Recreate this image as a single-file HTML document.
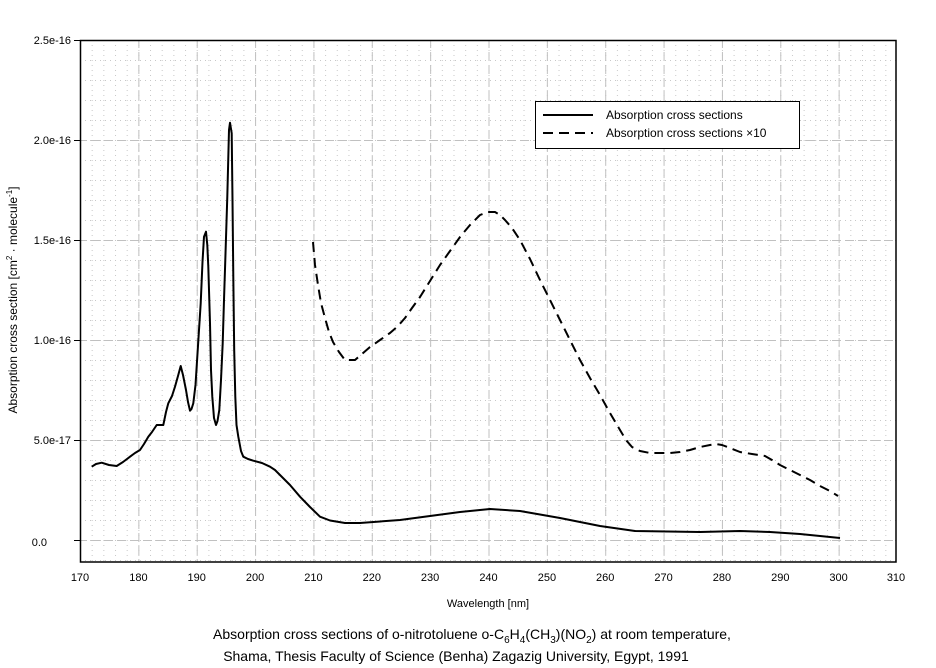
<!DOCTYPE html>
<html><head><meta charset="utf-8"><style>
body{margin:0;background:#fff;}
svg{display:block;font-family:"Liberation Sans",sans-serif;}
</style></head><body>
<svg width="936" height="668" viewBox="0 0 936 668" xmlns="http://www.w3.org/2000/svg">
<defs>
<pattern id="minx" x="80" y="0" width="11.6714" height="668" patternUnits="userSpaceOnUse">
<line x1="0.5" y1="0" x2="0.5" y2="668" stroke="#c8c8c8" stroke-width="1" stroke-dasharray="1,4"/>
</pattern>
<pattern id="miny" x="0" y="40" width="936" height="20" patternUnits="userSpaceOnUse">
<line x1="0" y1="0.5" x2="936" y2="0.5" stroke="#c8c8c8" stroke-width="1" stroke-dasharray="1,4"/>
</pattern>
<pattern id="majx" x="80" y="0" width="58.357" height="668" patternUnits="userSpaceOnUse">
<line x1="0.5" y1="0" x2="0.5" y2="668" stroke="#c0c0c0" stroke-width="1" stroke-dasharray="9,4"/>
</pattern>
<pattern id="majy" x="0" y="40" width="936" height="100" patternUnits="userSpaceOnUse">
<line x1="0" y1="0.5" x2="936" y2="0.5" stroke="#c0c0c0" stroke-width="1" stroke-dasharray="9,4"/>
</pattern>
</defs>
<rect x="80" y="40" width="816" height="522" fill="url(#minx)"/>
<rect x="80" y="40" width="816" height="522" fill="url(#miny)"/>
<rect x="80" y="40" width="816" height="522" fill="url(#majx)"/>
<rect x="80" y="40" width="816" height="522" fill="url(#majy)"/>
<rect x="80.5" y="40.5" width="815.5" height="521.5" fill="none" stroke="#000" stroke-width="1.5"/>
<g stroke="#000" stroke-width="1">
<line x1="74" y1="40.5" x2="80" y2="40.5"/><line x1="74" y1="140.5" x2="80" y2="140.5"/>
<line x1="74" y1="240.5" x2="80" y2="240.5"/><line x1="74" y1="340.5" x2="80" y2="340.5"/>
<line x1="74" y1="440.5" x2="80" y2="440.5"/><line x1="74" y1="540.5" x2="80" y2="540.5"/>
</g>
<g font-size="11" text-anchor="end" fill="#000">
<text x="71" y="44">2.5e-16</text><text x="71" y="144">2.0e-16</text>
<text x="71" y="244">1.5e-16</text><text x="71" y="344">1.0e-16</text>
<text x="71" y="444">5.0e-17</text><text x="47" y="546">0.0</text>
</g>
<g font-size="11" text-anchor="middle" fill="#000">
<text x="80" y="581">170</text><text x="138.4" y="581">180</text><text x="196.7" y="581">190</text>
<text x="255.1" y="581">200</text><text x="313.4" y="581">210</text><text x="371.8" y="581">220</text>
<text x="430.1" y="581">230</text><text x="488.5" y="581">240</text><text x="546.9" y="581">250</text>
<text x="605.2" y="581">260</text><text x="663.6" y="581">270</text><text x="721.9" y="581">280</text>
<text x="780.3" y="581">290</text><text x="838.6" y="581">300</text><text x="896" y="581">310</text>
<text x="488" y="607">Wavelength [nm]</text>
<text x="472" y="639" font-size="14">Absorption cross sections of o-nitrotoluene o-C<tspan font-size="10" dy="4">6</tspan><tspan dy="-4">H</tspan><tspan font-size="10" dy="4">4</tspan><tspan dy="-4">(CH</tspan><tspan font-size="10" dy="4">3</tspan><tspan dy="-4">)(NO</tspan><tspan font-size="10" dy="4">2</tspan><tspan dy="-4">) at room temperature,</tspan></text>
<text x="456" y="661" font-size="14">Shama, Thesis Faculty of Science (Benha) Zagazig University, Egypt, 1991</text>
</g>
<text transform="translate(17,300) rotate(-90)" font-size="12" text-anchor="middle">Absorption cross section [cm<tspan font-size="8" dy="-5">2</tspan><tspan dy="5"> · molecule</tspan><tspan font-size="8" dy="-5">-1</tspan><tspan dy="5">]</tspan></text>
<polyline fill="none" stroke="#000" stroke-width="2" stroke-linejoin="round" points="91.7,466.7 96,464 101.7,462.7 109,465 116.7,466 123,462 130,456.7 135,453 140,450 144,444 148.3,436.7 152,432 156.7,425 163.3,425 166,412 168.3,403.3 172,396 175,386.7 178,376 180.7,366 183,375 186,390 188,402 190,410.7 191.5,409 193.3,403.3 195.5,385 197.3,356.7 199,330 200.7,303.3 202.5,262 204,236.7 206,231.7 207.3,245 208.3,266.7 210,323.3 211,370 212.3,396.7 214,418 216,425 217.5,421 219.3,410 221,380 222.7,343.3 224,300 225.3,260 227.3,196.7 229,130 230,122.7 231.7,133.3 232.5,200 233.3,276.7 234.2,350 235.3,396.7 236.5,425 238.3,436.7 241,451 243.3,456.7 248,459 253.3,460.7 262,463 270,466.7 275,470 280,475 290,485 300,496.7 310,507 320,516.7 330,520.5 345,523 360,523 400,520 430,516 460,512 490,509 520,511 560,518 600,526 635,531 700,532 740,531 770,532 800,534 840,538"/>
<polyline fill="none" stroke="#000" stroke-width="2" stroke-dasharray="10,6" stroke-linejoin="round" points="313,242 315,265 318,285 321,303 325,318 329,332 333,342 339,352 345,360 355,360 362,354 370,347 380,340 390,333 398,326 405,318 412,308 420,297 430,281 440,265 450,251 460,237 470,225 480,215 488,212 495,212 500,215 505,220 512,228 520,240 530,259 540,280 550,300 560,320 570,340 580,360 590,378 600,395 610,413 620,430 626,440 632,447 640,451 650,453 660,453 670,453 680,452 690,450 700,447 710,445 716,444 722,445 730,448 740,452 752,454 765,456 772,460 780,465 790,470 800,475 810,480 820,486 830,491 838,496"/>
<rect x="535.5" y="101.5" width="264" height="47" fill="#fff" stroke="#000" stroke-width="1"/>
<line x1="543" y1="115" x2="593" y2="115" stroke="#000" stroke-width="2"/>
<line x1="543" y1="133" x2="593" y2="133" stroke="#000" stroke-width="2" stroke-dasharray="10,6"/>
<text x="606" y="119" font-size="12">Absorption cross sections</text>
<text x="606" y="137" font-size="12">Absorption cross sections ×10</text>
</svg>
</body></html>
